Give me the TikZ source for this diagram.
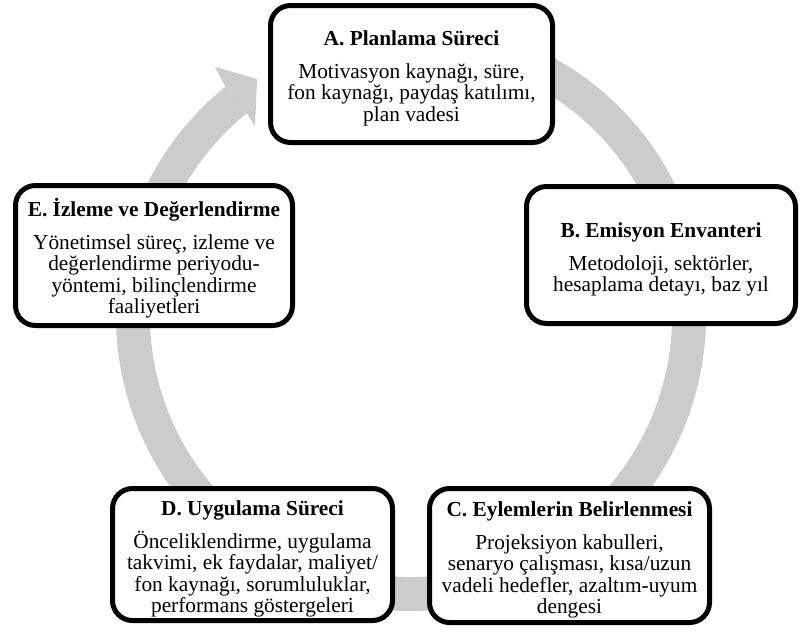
\documentclass[tikz,border=0pt]{standalone}
\usepackage{fontspec}
\setmainfont{Liberation Serif}
\newcommand{\stagefont}{\fontsize{16}{16}\selectfont\lineskiplimit=-20pt\relax}
\newcommand{\stagehead}[1]{\rule{0pt}{19pt}\textbf{#1}\\[8.75pt]}
\newcommand{\stageend}{\rule[-5pt]{0pt}{5pt}}
\begin{document}
\begin{tikzpicture}[x = .75pt, y = -.75pt,
		stage/.style = {draw, line width = 3.75pt, rounded corners = 15pt, fill = white, align = center, inner sep = 0pt, font = \stagefont},
		ring/.style = {line width = 25.5pt, draw = ringgray}]
	\definecolor{ringgray}{RGB}{204,204,204}
	\useasboundingbox (0,0) rectangle (802,637);
	\coordinate (ringc) at (411,316); % centre of the cycle
	\draw[ring] (ringc) ++(115:208.5pt) arc[start angle = 115, end angle = -231, radius = 208.5pt]; % cycle
	\fill[ringgray, shift = {(ringc)}] (129:221.25pt) -- (128.2:237.75pt) -- (123:212pt) -- (129.4:184.35pt) -- (129:195.75pt) -- cycle; % head
	\node[stage, minimum width = 211.5pt, minimum height = 102.75pt] (plan) at (411.5,74) {\stagehead{A. Planlama Süreci} Motivasyon kaynağı, süre,\\ fon kaynağı, paydaş katılımı,\\ plan vadesi\stageend};
	\node[stage, minimum width = 201.75pt, minimum height = 102.75pt] (envanter) at (661,255) {\stagehead{B. Emisyon Envanteri} Metodoloji, sektörler,\\ hesaplama detayı, baz yıl\stageend};
	\node[stage, minimum width = 210pt, minimum height = 100.5pt] (eylem) at (569.5,555.5) {\stagehead{C. Eylemlerin Belirlenmesi} Projeksiyon kabulleri,\\ senaryo çalışması, kısa/uzun\\ vadeli hedefler, azaltım-uyum\\ dengesi\stageend};
	\node[stage, minimum width = 210pt, minimum height = 99pt] (uygulama) at (252.5,554.5) {\stagehead{D. Uygulama Süreci} Önceliklendirme, uygulama\\ takvimi, ek faydalar, maliyet/\\ fon kaynağı, sorumluluklar,\\ performans göstergeleri\stageend};
	\node[stage, minimum width = 207.75pt, minimum height = 105pt] (izleme) at (154,255.5) {\stagehead{E. İzleme ve Değerlendirme} Yönetimsel süreç, izleme ve\\ değerlendirme periyodu-\\ yöntemi, bilinçlendirme\\ faaliyetleri\stageend};
\end{tikzpicture}
\end{document}
